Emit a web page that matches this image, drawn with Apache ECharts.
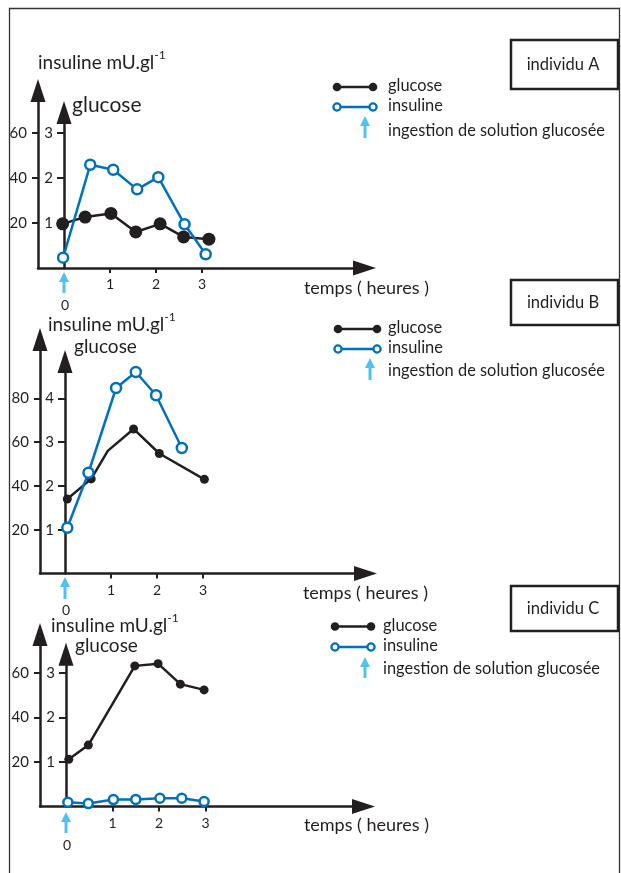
<!DOCTYPE html>
<html>
<head>
<meta charset="utf-8">
<style>
  html, body { margin: 0; padding: 0; background: #fff; }
  #chart { width: 621px; height: 873px; }
</style>
<script src="https://cdn.jsdelivr.net/npm/echarts@6/dist/echarts.min.js"></script>
</head>
<body>
<div id="chart"></div>
<script>
// ---- données ----
// individu A
const tGlucoseA = [-0.03, 0.46, 1.02, 1.56, 2.09, 2.60, 3.15]
const glucoseA = [0.98, 1.13, 1.21, 0.80, 0.98, 0.69, 0.64]
const tInsulineA = [-0.02, 0.57, 1.07, 1.59, 2.05, 2.62, 3.08]
const insulineA = [4.6, 45.8, 43.6, 34.9, 40.3, 19.4, 6.1]
// individu B
const tGlucoseB = [0.05, 0.57, 0.93, 1.49, 2.05, 3.03]
const glucoseB = [1.70, 2.16, 2.80, 3.30, 2.74, 2.15]
const tInsulineB = [0.05, 0.51, 1.11, 1.54, 1.98, 2.54]
const insulineB = [20.9, 46.0, 84.7, 92.0, 81.4, 57.3]
// individu C
const tGlucoseC = [0.06, 0.48, 1.48, 1.98, 2.46, 2.97]
const glucoseC = [1.06, 1.38, 3.16, 3.21, 2.75, 2.62]
const tInsulineC = [0.04, 0.48, 1.02, 1.50, 2.02, 2.49, 2.97]
const insulineC = [1.9, 1.3, 3.1, 3.2, 3.7, 3.7, 2.2]

// graduations
const timeTicks = [1, 2, 3]
const glucoseTicksA = [1, 2, 3]
const insulineTicksA = [20, 40, 60]
const glucoseTicksB = [1, 2, 3, 4]
const insulineTicksB = [20, 40, 60, 80]
const glucoseTicksC = [1, 2, 3]
const insulineTicksC = [20, 40, 60]

const W = 621
const H = 873
const BLACK = '#231f20'
const BLUE = '#0071bc'
const CYAN = '#4ec3f3'
const FONT = 'Lato'

// mise en page de chaque graphique (pixels)
const panels = [
  {
    label: 'individu A', tG: tGlucoseA, g: glucoseA, tI: tInsulineA, ins: insulineA,
    gTicks: glucoseTicksA, iTicks: insulineTicksA,
    outerX: 38, originX: 64, pxPerHour: 46, endX: 364.5,
    baseY: 268, outerTop: 90.5, innerTop: 112.5, pxPerUnit: 45.07,
    gSize: 13, iSize: 10, hiddenDot: -1,
    outerName: { gap: 27.5, pad: 0 }, innerName: { gap: 7.5, pad: 8, size: 21 },
    xName: { right: 429, down: 20 }, xLabelMargin: 9,
    box: { y: 40, h: 49 },
    legend: { y1: 87, y2: 107, xa: 337, xb: 373, textX: 388, arrowX: 365, arrowTip: 116, arrowTail: 138, textY3: 131 },
    ingest: { tip: 272, tail: 293, zeroY: 305 }
  },
  {
    label: 'individu B', tG: tGlucoseB, g: glucoseB, tI: tInsulineB, ins: insulineB,
    gTicks: glucoseTicksB, iTicks: insulineTicksB,
    outerX: 40, originX: 65, pxPerHour: 46, endX: 365.5,
    baseY: 573.5, outerTop: 339.5, innerTop: 361.5, pxPerUnit: 43.8,
    gSize: 9, iSize: 10, hiddenDot: 2,
    outerName: { gap: 14.5, pad: 8 }, innerName: { gap: 14.5, pad: 9, size: 19 },
    xName: { right: 428, down: 19.5 }, xLabelMargin: 10,
    box: { y: 280, h: 45 },
    legend: { y1: 329, y2: 349, xa: 338, xb: 377, textX: 388, arrowX: 370, arrowTip: 358, arrowTail: 380, textY3: 371 },
    ingest: { tip: 577, tail: 599, zeroY: 610 }
  },
  {
    label: 'individu C', tG: tGlucoseC, g: glucoseC, tI: tInsulineC, ins: insulineC,
    gTicks: glucoseTicksC, iTicks: insulineTicksC,
    outerX: 40, originX: 66, pxPerHour: 46.5, endX: 363.5,
    baseY: 806.5, outerTop: 634.5, innerTop: 654.2, pxPerUnit: 44.5,
    gSize: 9, iSize: 9, hiddenDot: -1,
    outerName: { gap: 8.5, pad: 11 }, innerName: { gap: 8, pad: 9, size: 19 },
    xName: { right: 429, down: 18.5 }, xLabelMargin: 9.5,
    box: { y: 586, h: 45 },
    legend: { y1: 626.5, y2: 647, xa: 335, xb: 371, textX: 383, arrowX: 365, arrowTip: 657, arrowTail: 678, textY3: 669 },
    ingest: { tip: 812, tail: 833, zeroY: 845 }
  }
]

const grid = []
const xAxis = []
const yAxis = []
const series = []
const graphic = []

// cadre général
graphic.push({
  type: 'rect', z: 0,
  shape: { x: 9.5, y: 8.5, width: 610, height: 900 },
  style: { fill: 'none', stroke: '#333', lineWidth: 1.3 }
})

function cyanArrow (x, tip, tail) {
  return [
    { type: 'line', shape: { x1: x, y1: tip + 8, x2: x, y2: tail }, style: { stroke: CYAN, lineWidth: 3 } },
    { type: 'polygon', shape: { points: [[x, tip], [x - 5, tip + 10], [x + 5, tip + 10]] }, style: { fill: CYAN } }
  ]
}

function txt (text, x, y, size, align) {
  return {
    type: 'text',
    style: { text: text, x: x, y: y, font: size + 'px ' + FONT, fill: BLACK, align: align || 'left', verticalAlign: 'middle' }
  }
}

const arrowLine = { symbol: ['none', 'triangle'], symbolSize: [15, 23], lineStyle: { color: BLACK, width: 2.5 } }

panels.forEach((p, k) => {
  const right = W - p.endX
  const bottom = H - p.baseY
  const xmin = (p.outerX - p.originX) / p.pxPerHour
  const xmax = (p.endX - p.originX) / p.pxPerHour
  const iMax = (p.baseY - p.outerTop) / p.pxPerUnit * 20
  const gMax = (p.baseY - p.innerTop) / p.pxPerUnit
  const gi = 2 * k

  // grille extérieure (insuline) et grille intérieure (glucose, démarre à t = 0)
  grid.push({ left: p.outerX, right: right, bottom: bottom, top: p.outerTop })
  grid.push({ left: p.originX, right: right, bottom: bottom, top: p.innerTop })

  xAxis.push({
    gridIndex: gi, type: 'value', min: xmin, max: xmax,
    axisLine: Object.assign({ onZero: false }, arrowLine),
    axisTick: { customValues: timeTicks, length: 5, lineStyle: { color: BLACK, width: 2 } },
    axisLabel: { customValues: timeTicks, margin: p.xLabelMargin, color: BLACK, fontSize: 14, fontFamily: FONT },
    splitLine: { show: false },
    name: 'temps ( heures )', nameLocation: 'end', nameGap: p.xName.right - p.endX,
    nameTextStyle: { align: 'right', verticalAlign: 'top', lineHeight: p.xName.down * 2, color: BLACK, fontSize: 18, fontFamily: FONT }
  })
  xAxis.push({
    gridIndex: gi + 1, type: 'value', min: 0, max: xmax, show: false,
    axisLine: { onZero: false }, splitLine: { show: false }
  })

  yAxis.push({
    gridIndex: gi, type: 'value', min: 0, max: iMax, position: 'left',
    axisLine: Object.assign({ onZero: false }, arrowLine),
    axisTick: { customValues: p.iTicks, length: 6, lineStyle: { color: BLACK, width: 2 } },
    axisLabel: { customValues: p.iTicks, margin: 11, color: BLACK, fontSize: 15, fontFamily: FONT },
    splitLine: { show: false },
    name: '{a|insuline mU.gl}{s|-1}', nameLocation: 'end', nameGap: p.outerName.gap,
    nameTextStyle: {
      align: 'left', verticalAlign: 'middle', padding: [0, 0, 0, p.outerName.pad],
      rich: {
        a: { fontSize: 19, fontFamily: FONT, color: BLACK, lineHeight: 28 },
        s: { fontSize: 12, fontFamily: FONT, color: BLACK, verticalAlign: 'top', lineHeight: 13 }
      }
    }
  })
  yAxis.push({
    gridIndex: gi + 1, type: 'value', min: 0, max: gMax, position: 'left',
    axisLine: Object.assign({ onZero: false }, arrowLine),
    axisTick: { customValues: p.gTicks, length: 7, lineStyle: { color: BLACK, width: 2 } },
    axisLabel: { customValues: p.gTicks, margin: 11, color: BLACK, fontSize: 15, fontFamily: FONT },
    splitLine: { show: false },
    name: 'glucose', nameLocation: 'end', nameGap: p.innerName.gap,
    nameTextStyle: { align: 'left', verticalAlign: 'middle', padding: [0, 0, 0, p.innerName.pad], color: BLACK, fontSize: p.innerName.size, fontFamily: FONT }
  })

  series.push({
    type: 'line', name: 'glucose', xAxisIndex: gi + 1, yAxisIndex: gi + 1,
    data: p.tG.map((t, i) => {
      const item = { value: [t, p.g[i]] }
      if (i === p.hiddenDot) item.symbolSize = 0
      return item
    }),
    symbol: 'circle', symbolSize: p.gSize, showAllSymbol: true, clip: false,
    lineStyle: { color: BLACK, width: 2.5 },
    itemStyle: { color: BLACK },
    z: 3
  })
  series.push({
    type: 'line', name: 'insuline', xAxisIndex: gi, yAxisIndex: gi,
    data: p.tI.map((t, i) => [t, p.ins[i]]),
    symbol: 'circle', symbolSize: p.iSize, showAllSymbol: true, clip: false,
    lineStyle: { color: BLUE, width: 2.5 },
    itemStyle: { color: '#fff', borderColor: BLUE, borderWidth: 2.5 },
    z: 4
  })

  // encadré "individu"
  graphic.push({
    type: 'rect',
    shape: { x: 511, y: p.box.y, width: 107, height: p.box.h },
    style: { fill: 'none', stroke: BLACK, lineWidth: 2.5 }
  })
  graphic.push(txt(p.label, 563, p.box.y + p.box.h / 2, 16.5, 'center'))

  // légende
  const L = p.legend
  graphic.push({ type: 'line', shape: { x1: L.xa, y1: L.y1, x2: L.xb, y2: L.y1 }, style: { stroke: BLACK, lineWidth: 2.5 } })
  graphic.push({ type: 'circle', shape: { cx: L.xa, cy: L.y1, r: 4.3 }, style: { fill: BLACK } })
  graphic.push({ type: 'circle', shape: { cx: L.xb, cy: L.y1, r: 4.3 }, style: { fill: BLACK } })
  graphic.push(txt('glucose', L.textX, L.y1 - 1, 16.4))
  graphic.push({ type: 'line', shape: { x1: L.xa, y1: L.y2, x2: L.xb, y2: L.y2 }, style: { stroke: BLUE, lineWidth: 2.5 } })
  graphic.push({ type: 'circle', shape: { cx: L.xa, cy: L.y2, r: 3.6 }, style: { fill: '#fff', stroke: BLUE, lineWidth: 2.3 } })
  graphic.push({ type: 'circle', shape: { cx: L.xb, cy: L.y2, r: 3.6 }, style: { fill: '#fff', stroke: BLUE, lineWidth: 2.3 } })
  graphic.push(txt('insuline', L.textX, L.y2 - 1, 16.4))
  cyanArrow(L.arrowX, L.arrowTip, L.arrowTail).forEach(s => graphic.push(s))
  graphic.push(txt('ingestion de solution glucosée', L.textX, L.textY3, 16.4))

  // flèche d'ingestion à t = 0
  cyanArrow(p.originX, p.ingest.tip, p.ingest.tail).forEach(s => graphic.push(s))
  graphic.push(txt('0', p.originX + 1, p.ingest.zeroY, 14, 'center'))
})

const chart = echarts.init(document.getElementById('chart'), null, { renderer: 'canvas' })
chart.setOption({
  animation: false,
  backgroundColor: '#fff',
  textStyle: { fontFamily: FONT },
  grid: grid,
  xAxis: xAxis,
  yAxis: yAxis,
  series: series,
  graphic: graphic
})
</script>
</body>
</html>
